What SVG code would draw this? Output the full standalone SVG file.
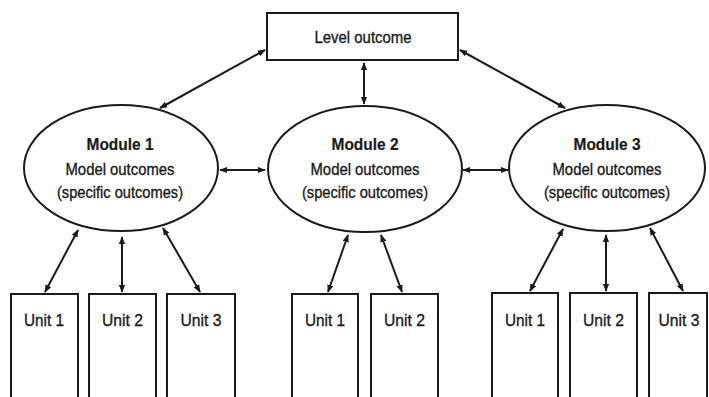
<svg xmlns="http://www.w3.org/2000/svg" width="709" height="397" viewBox="0 0 709 397">
<style>
.box{fill:#fff;stroke:#1a1a1a;stroke-width:2}
.ell{fill:#fff;stroke:#1a1a1a;stroke-width:2}
.t{font-family:"Liberation Sans",Arial,sans-serif;font-size:17px;fill:#1a1a1a;stroke:#1a1a1a;stroke-width:0.35;text-anchor:middle}
.b{font-weight:bold;stroke-width:0.2}
.c{stroke:#1a1a1a;stroke-width:2;fill:none;marker-start:url(#ah);marker-end:url(#ah)}
</style>
<defs>
<marker id="ah" viewBox="0 0 10 10" refX="9" refY="5" markerWidth="4" markerHeight="4" orient="auto-start-reverse" markerUnits="strokeWidth">
<path d="M0,1 L10,5 L0,9 Z" fill="#1a1a1a"/>
</marker>
</defs>
<rect width="709" height="397" fill="#fff"/>
<g id="level">
<rect class="box" x="267" y="13" width="191" height="47"/>
<text class="t" x="363" y="43" textLength="97" lengthAdjust="spacingAndGlyphs">Level outcome</text>
</g>
<g id="module1">
<ellipse class="ell" cx="121" cy="168" rx="97" ry="63"/>
<text class="t b" x="120" y="150" textLength="67" lengthAdjust="spacingAndGlyphs">Module 1</text>
<text class="t" x="120" y="175" textLength="109" lengthAdjust="spacingAndGlyphs">Model outcomes</text>
<text class="t" x="120" y="198" textLength="126" lengthAdjust="spacingAndGlyphs">(specific outcomes)</text>
</g>
<g id="module2">
<ellipse class="ell" cx="365" cy="169" rx="97" ry="63"/>
<text class="t b" x="365" y="150" textLength="67" lengthAdjust="spacingAndGlyphs">Module 2</text>
<text class="t" x="365" y="175" textLength="109" lengthAdjust="spacingAndGlyphs">Model outcomes</text>
<text class="t" x="365" y="198" textLength="126" lengthAdjust="spacingAndGlyphs">(specific outcomes)</text>
</g>
<g id="module3">
<ellipse class="ell" cx="607" cy="168" rx="98" ry="63"/>
<text class="t b" x="607" y="150" textLength="67" lengthAdjust="spacingAndGlyphs">Module 3</text>
<text class="t" x="607" y="175" textLength="109" lengthAdjust="spacingAndGlyphs">Model outcomes</text>
<text class="t" x="607" y="198" textLength="126" lengthAdjust="spacingAndGlyphs">(specific outcomes)</text>
</g>
<g id="m1u1"><rect class="box" x="11" y="294" width="67" height="110"/><text class="t" x="44" y="326" textLength="40" lengthAdjust="spacingAndGlyphs">Unit 1</text></g>
<g id="m1u2"><rect class="box" x="89" y="294" width="67" height="110"/><text class="t" x="122.5" y="326" textLength="41" lengthAdjust="spacingAndGlyphs">Unit 2</text></g>
<g id="m1u3"><rect class="box" x="167" y="294" width="68" height="110"/><text class="t" x="201" y="326" textLength="41" lengthAdjust="spacingAndGlyphs">Unit 3</text></g>
<g id="m2u1"><rect class="box" x="292" y="294" width="66" height="110"/><text class="t" x="325" y="326" textLength="40" lengthAdjust="spacingAndGlyphs">Unit 1</text></g>
<g id="m2u2"><rect class="box" x="371" y="294" width="67" height="110"/><text class="t" x="404.5" y="326" textLength="41" lengthAdjust="spacingAndGlyphs">Unit 2</text></g>
<g id="m3u1"><rect class="box" x="492" y="293" width="66" height="110"/><text class="t" x="525" y="326" textLength="40" lengthAdjust="spacingAndGlyphs">Unit 1</text></g>
<g id="m3u2"><rect class="box" x="570" y="293" width="67" height="110"/><text class="t" x="603.5" y="326" textLength="41" lengthAdjust="spacingAndGlyphs">Unit 2</text></g>
<g id="m3u3"><rect class="box" x="649" y="293" width="58" height="110"/><text class="t" x="679" y="326" textLength="41" lengthAdjust="spacingAndGlyphs">Unit 3</text></g>
<g id="connectors">
<line class="c" x1="265" y1="50" x2="160" y2="108"/>
<line class="c" x1="364" y1="63" x2="364" y2="104"/>
<line class="c" x1="460" y1="50" x2="565" y2="108"/>
<line class="c" x1="220" y1="170" x2="265" y2="170"/>
<line class="c" x1="463" y1="170" x2="508" y2="170"/>
<line class="c" x1="78" y1="230" x2="45" y2="292"/>
<line class="c" x1="122" y1="237" x2="122" y2="292"/>
<line class="c" x1="163" y1="228" x2="200" y2="292"/>
<line class="c" x1="348" y1="235" x2="328" y2="292"/>
<line class="c" x1="381" y1="235" x2="402" y2="292"/>
<line class="c" x1="563" y1="229" x2="530" y2="291"/>
<line class="c" x1="606" y1="235" x2="606" y2="291"/>
<line class="c" x1="650" y1="228" x2="683" y2="291"/>
</g>
</svg>
